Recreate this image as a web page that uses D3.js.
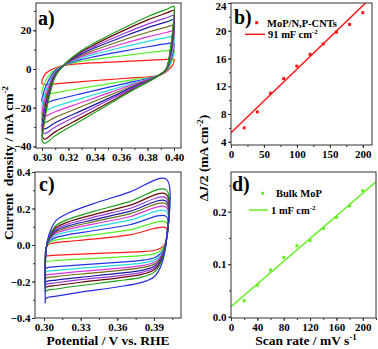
<!DOCTYPE html>
<html><head><meta charset="utf-8">
<script src="https://cdn.jsdelivr.net/npm/d3@7"></script>
<style>
html,body{margin:0;padding:0;background:#fff;}
svg text{font-family:"Liberation Serif","Times New Roman",serif;font-weight:bold;}
</style></head>
<body><svg id="c" width="378" height="349"></svg>
<script>
// ---------- Panel a: CV curves of MoP/N,P-CNTs (mA cm-2) ----------
const aXfwd = [0.300,0.302,0.305,0.310,0.318,0.330,0.340,0.360,0.380,0.395,0.400];
const aXrev = [0.400,0.399,0.397,0.394,0.387,0.370,0.350,0.330,0.310,0.302,0.300];
const aFwd = [
 [-6,-3,-1.2,0.5,2,2.8,3.2,3.8,4.5,5,5],
 [-11.2,-7.1,-3.7,-0.3,2.2,4.0,5.0,6.7,8.4,9.5,9.7],
 [-15.3,-10.5,-5.8,-0.9,2.3,4.9,6.4,9.0,11.5,13.1,13.5],
 [-19.1,-13.5,-7.7,-1.5,2.4,5.7,7.7,11.1,14.3,16.3,16.9],
 [-22.1,-15.9,-9.2,-1.9,2.5,6.4,8.7,12.8,16.6,19.0,19.7],
 [-25.4,-18.5,-10.7,-2.4,2.6,7.1,9.8,14.6,19.0,21.8,22.6],
 [-28.5,-21.0,-12.3,-2.9,2.8,7.8,10.9,16.3,21.4,24.5,25.5],
 [-31.0,-23.0,-13.5,-3.2,2.8,8.4,11.8,17.7,23.2,26.6,27.7],
 [-33.8,-25.2,-14.9,-3.7,2.9,9.0,12.7,19.3,25.4,29.1,30.3],
 [-36,-27,-16,-4,3,9.5,13.5,20.5,27,31,32.3]
];
const aRev = [
 [4,2,0.5,-1.5,-3.5,-4.5,-5.5,-6.5,-7.7,-8,-7.5],
 [8.1,5.1,2.0,-1.2,-3.6,-5.5,-7.7,-9.9,-12.3,-13.2,-12.6],
 [11.5,7.6,3.1,-1.0,-3.7,-6.4,-9.5,-12.7,-16.0,-17.5,-16.7],
 [14.5,9.8,4.2,-0.8,-3.7,-7.1,-11.2,-15.2,-19.4,-21.3,-20.4],
 [16.9,11.7,5.1,-0.7,-3.8,-7.7,-12.5,-17.3,-22.1,-24.4,-23.4],
 [19.5,13.6,6.0,-0.5,-3.8,-8.4,-13.9,-19.4,-25.0,-27.7,-26.5],
 [22.0,15.5,6.9,-0.4,-3.9,-9.0,-15.3,-21.5,-27.8,-30.9,-29.7],
 [24.0,17.0,7.6,-0.3,-3.9,-9.5,-16.3,-23.1,-30.0,-33.4,-32.0],
 [26.2,18.7,8.4,-0.1,-4.0,-10.1,-17.6,-25.0,-32.5,-36.3,-34.8],
 [28,20,9,0,-4,-10.5,-18.5,-26.5,-34.5,-38.5,-37]
];
const aXticks = [0.30,0.32,0.34,0.36,0.38,0.40];
const aYticks = [-40,-20,0,20];

// ---------- Panel c: CV curves of bulk MoP (mA cm-2) ----------
const cXfwd = [0.301,0.3015,0.303,0.306,0.310,0.320,0.340,0.370,0.400];
const cXrev = [0.400,0.399,0.397,0.394,0.390,0.380,0.360,0.330,0.310,0.302,0.301];
const cFwd = [
 [-0.06,-0.02,0.0,0.008,0.013,0.02,0.032,0.055,0.093],
 [-0.09,-0.024,0.004,0.018,0.028,0.038,0.055,0.083,0.125],
 [-0.125,-0.027,0.007,0.028,0.042,0.057,0.078,0.111,0.157],
 [-0.145,-0.030,0.010,0.036,0.055,0.073,0.098,0.136,0.185],
 [-0.165,-0.033,0.013,0.043,0.065,0.086,0.114,0.155,0.207],
 [-0.18,-0.035,0.015,0.048,0.073,0.096,0.127,0.171,0.225],
 [-0.20,-0.036,0.016,0.053,0.080,0.105,0.138,0.184,0.240],
 [-0.215,-0.038,0.018,0.058,0.088,0.115,0.151,0.200,0.258],
 [-0.23,-0.041,0.021,0.065,0.097,0.127,0.165,0.217,0.278],
 [-0.25,-0.043,0.023,0.072,0.108,0.141,0.183,0.238,0.302],
 [-0.32,-0.05,0.03,0.09,0.135,0.175,0.225,0.29,0.361]
];
const cRev = [
 [0.02,0.008,-0.01,-0.022,-0.03,-0.036,-0.042,-0.05,-0.056,-0.06,-0.06],
 [0.02,0.003,-0.020,-0.037,-0.049,-0.058,-0.066,-0.077,-0.085,-0.090,-0.091],
 [0.02,-0.003,-0.033,-0.055,-0.071,-0.084,-0.095,-0.109,-0.119,-0.125,-0.128],
 [0.02,-0.006,-0.040,-0.066,-0.084,-0.099,-0.112,-0.127,-0.139,-0.145,-0.149],
 [0.02,-0.009,-0.047,-0.076,-0.096,-0.113,-0.128,-0.145,-0.158,-0.165,-0.170],
 [0.02,-0.012,-0.052,-0.084,-0.106,-0.124,-0.140,-0.159,-0.173,-0.180,-0.185],
 [0.02,-0.015,-0.059,-0.094,-0.118,-0.139,-0.156,-0.177,-0.192,-0.200,-0.206],
 [0.02,-0.018,-0.064,-0.102,-0.128,-0.150,-0.169,-0.190,-0.207,-0.215,-0.222],
 [0.02,-0.020,-0.069,-0.109,-0.137,-0.161,-0.181,-0.204,-0.222,-0.230,-0.237],
 [0.02,-0.023,-0.076,-0.119,-0.150,-0.176,-0.197,-0.222,-0.241,-0.250,-0.258],
 [0.02,-0.03,-0.09,-0.14,-0.175,-0.205,-0.23,-0.258,-0.28,-0.29,-0.30]
];
const cXticks = [0.30,0.33,0.36,0.39];
const cYticks = [-0.4,-0.2,0.0,0.2,0.4];

const cvColors = ['#ff1a1a','#55ee22','#2233ee','#22dddd','#dd33dd','#6e6e1e','#1a1aa0','#9933dd','#6a0a0a','#1aa01a','#2a2ae0'];

// ---------- Panel b: MoP/N,P-CNTs ----------
const scanRates = [20,40,60,80,100,120,140,160,180,200];
const bVals = [6.0,8.3,11.0,13.1,14.9,16.6,18.1,19.8,20.9,22.6];
const bFitX = [0,214];
const bFitY = [5.3,24.9];
const bXticks = [0,50,100,150,200];
const bYticks = [4,8,12,16,20,24];

// ---------- Panel d: Bulk MoP ----------
const dVals = [0.0305,0.060,0.089,0.113,0.135,0.145,0.168,0.189,0.211,0.240];
const dFitX = [0,220];
const dFitY = [0.019,0.257];
const dXticks = [0,40,80,120,160,200];
const dYticks = [0.0,0.1,0.2];

const svg = d3.select('#c');
const FRAME = '#333';

function drawAxes(x, y, xt, xm, yt, ym, xf, yf){
  const [x0,x1] = x.range(), [y0,y1] = y.range();
  const g = svg.append('g');
  g.append('g').attr('transform',`translate(0,${y0})`)
    .call(d3.axisBottom(x).tickValues(xm).tickSize(2).tickFormat(''));
  g.append('g').attr('transform',`translate(${x0},0)`)
    .call(d3.axisLeft(y).tickValues(ym).tickSize(2).tickFormat(''));
  g.append('g').attr('transform',`translate(0,${y0})`)
    .call(d3.axisBottom(x).tickValues(xt).tickSize(3).tickPadding(2).tickFormat(xf));
  const yg = g.append('g').attr('transform',`translate(${x0},0)`)
    .call(d3.axisLeft(y).tickValues(yt).tickSize(3).tickPadding(1.5).tickFormat(yf));
  g.selectAll('.domain').remove();
  g.selectAll('line').attr('stroke',FRAME);
  g.selectAll('text').attr('font-size','11px').attr('fill','#000')
   .style('font-family','"Liberation Serif","Times New Roman",serif').style('font-weight','bold');
  // keep top-most label inside the picture
  yg.selectAll('.tick text').each(function(d){
    const py = y(d);
    if (py < 6) d3.select(this).attr('dy', (0.32*11 + (6-py))+'px');
  });
  svg.append('rect').attr('x',x0).attr('y',y1).attr('width',x1-x0).attr('height',y0-y1)
    .attr('fill','none').attr('stroke',FRAME).attr('stroke-width',1);
}
function rangeStep(a,b,s){const r=[];for(let v=a;v<=b+1e-9;v+=s)r.push(+v.toFixed(6));return r;}

function clip(id,x,y){
  const [x0,x1]=x.range(),[y0,y1]=y.range();
  svg.append('clipPath').attr('id',id).append('rect')
    .attr('x',x0).attr('y',y1).attr('width',x1-x0).attr('height',y0-y1);
}

function cvPanel(x,y,Xf,Xr,F,R,colors){
  const line = d3.line().x(d=>x(d[0])).y(d=>y(d[1])).curve(d3.curveCatmullRom.alpha(0.5));
  F.forEach((row,k)=>{
    const pts = row.map((v,i)=>[Xf[i],v]).concat(R[k].map((v,i)=>[Xr[i],v]));
    pts.push(pts[0]);
    svg.append('path').attr('d',line(pts)).attr('fill','none')
      .attr('stroke',colors[k]).attr('stroke-width',1.2);
  });
}

// ---- Panel a ----
const ax = d3.scaleLinear().domain([0.29545,0.4053]).range([36,181]);
const ay = d3.scaleLinear().domain([-40.83,34.1]).range([148,3]);
cvPanel(ax,ay,aXfwd,aXrev,aFwd,aRev,cvColors);
drawAxes(ax,ay,aXticks,rangeStep(0.30,0.40,0.01),aYticks,rangeStep(-40,30,10),d3.format('.2f'),d3.format('d'));

// ---- Panel c ----
const cx = d3.scaleLinear().domain([0.29264,0.4121]).range([35,181]);
const cy = d3.scaleLinear().domain([-0.4,0.4]).range([318,172]);
cvPanel(cx,cy,cXfwd,cXrev,cFwd,cRev,cvColors);
drawAxes(cx,cy,cXticks,rangeStep(0.30,0.405,0.015),cYticks,rangeStep(-0.4,0.4,0.1),d3.format('.2f'),d3.format('.1f'));

// ---- Panel b ----
const bx = d3.scaleLinear().domain([0,214]).range([231,372]);
const by = d3.scaleLinear().domain([3.53,24]).range([145,3]);
clip('clipb',bx,by);
svg.append('path').attr('clip-path','url(#clipb)')
  .attr('d',d3.line().x(d=>bx(d[0])).y(d=>by(d[1]))(bFitX.map((v,i)=>[v,bFitY[i]])))
  .attr('stroke','#ff1a1a').attr('stroke-width',1.5).attr('fill','none');
svg.append('g').selectAll('rect').data(scanRates).join('rect')
  .attr('x',(d)=>bx(d)-1.5).attr('y',(d,i)=>by(bVals[i])-1.5).attr('width',3).attr('height',3)
  .attr('fill','#ff1a1a');
drawAxes(bx,by,bXticks,rangeStep(0,200,25),bYticks,rangeStep(4,24,2),d3.format('d'),d3.format('d'));

// ---- Panel d ----
const dx = d3.scaleLinear().domain([0,220]).range([231,376]);
const dy = d3.scaleLinear().domain([-0.0025,0.2756]).range([318,172]);
clip('clipd',dx,dy);
svg.append('path').attr('clip-path','url(#clipd)')
  .attr('d',d3.line().x(d=>dx(d[0])).y(d=>dy(d[1]))(dFitX.map((v,i)=>[v,dFitY[i]])))
  .attr('stroke','#66ee22').attr('stroke-width',1.5).attr('fill','none');
svg.append('g').selectAll('rect').data(scanRates).join('rect')
  .attr('x',(d)=>dx(d)-1.5).attr('y',(d,i)=>dy(dVals[i])-1.5).attr('width',3).attr('height',3)
  .attr('fill','#66ee22');
drawAxes(dx,dy,dXticks,rangeStep(0,220,20),dYticks,rangeStep(0,0.25,0.05),d3.format('d'),d3.format('.1f'));

// ---- Panel letters ----
[['a)',38,25],['b)',234,24],['c)',39,191],['d)',232,191]].forEach(([t,x,y])=>{
  svg.append('text').attr('x',x).attr('y',y).attr('font-size','20px').text(t);
});

// ---- Legends ----
svg.append('rect').attr('x',255.2).attr('y',21.2).attr('width',3).attr('height',3).attr('fill','#ff1a1a');
svg.append('text').attr('x',267).attr('y',26.5).attr('font-size','10.5px').text('MoP/N,P-CNTs');
svg.append('line').attr('x1',245).attr('x2',265).attr('y1',34.3).attr('y2',34.3).attr('stroke','#ff1a1a').attr('stroke-width',1.5);
const t1 = svg.append('text').attr('x',268).attr('y',38).attr('font-size','10.5px');
t1.append('tspan').text('91 mF cm');
t1.append('tspan').attr('dy',-4).attr('font-size','7px').text('-2');

svg.append('rect').attr('x',261.2).attr('y',191.8).attr('width',3).attr('height',3).attr('fill','#66ee22');
svg.append('text').attr('x',276).attr('y',197).attr('font-size','10.5px').text('Bulk MoP');
svg.append('line').attr('x1',249).attr('x2',268).attr('y1',210).attr('y2',210).attr('stroke','#66ee22').attr('stroke-width',1.5);
const t2 = svg.append('text').attr('x',271).attr('y',214).attr('font-size','10.5px');
t2.append('tspan').text('1 mF cm');
t2.append('tspan').attr('dy',-4).attr('font-size','7px').text('-2');

// ---- Axis titles ----
const yl = svg.append('text').attr('transform','translate(13,163) rotate(-90)')
  .attr('text-anchor','middle').attr('font-size','13.5px');
yl.append('tspan').text('Current\u00A0 density / mA cm');
yl.append('tspan').attr('dy',-5).attr('font-size','9px').text('-2');

svg.append('text').attr('x',108).attr('y',345).attr('text-anchor','middle')
  .attr('font-size','13.5px').text('Potential / V vs. RHE');

const yr = svg.append('text').attr('transform','translate(208,158) rotate(-90)')
  .attr('text-anchor','middle').attr('font-size','13.5px');
yr.append('tspan').text('\u0394');
yr.append('tspan').attr('font-style','italic').text('J');
yr.append('tspan').text('/2 (mA cm');
yr.append('tspan').attr('dy',-5).attr('font-size','9px').text('-2');
yr.append('tspan').attr('dy',5).text(')');

const xr = svg.append('text').attr('x',306).attr('y',345).attr('text-anchor','middle').attr('font-size','13.5px');
xr.append('tspan').text('Scan rate / mV s');
xr.append('tspan').attr('dy',-5).attr('font-size','9px').text('-1');
</script>
</body></html>
